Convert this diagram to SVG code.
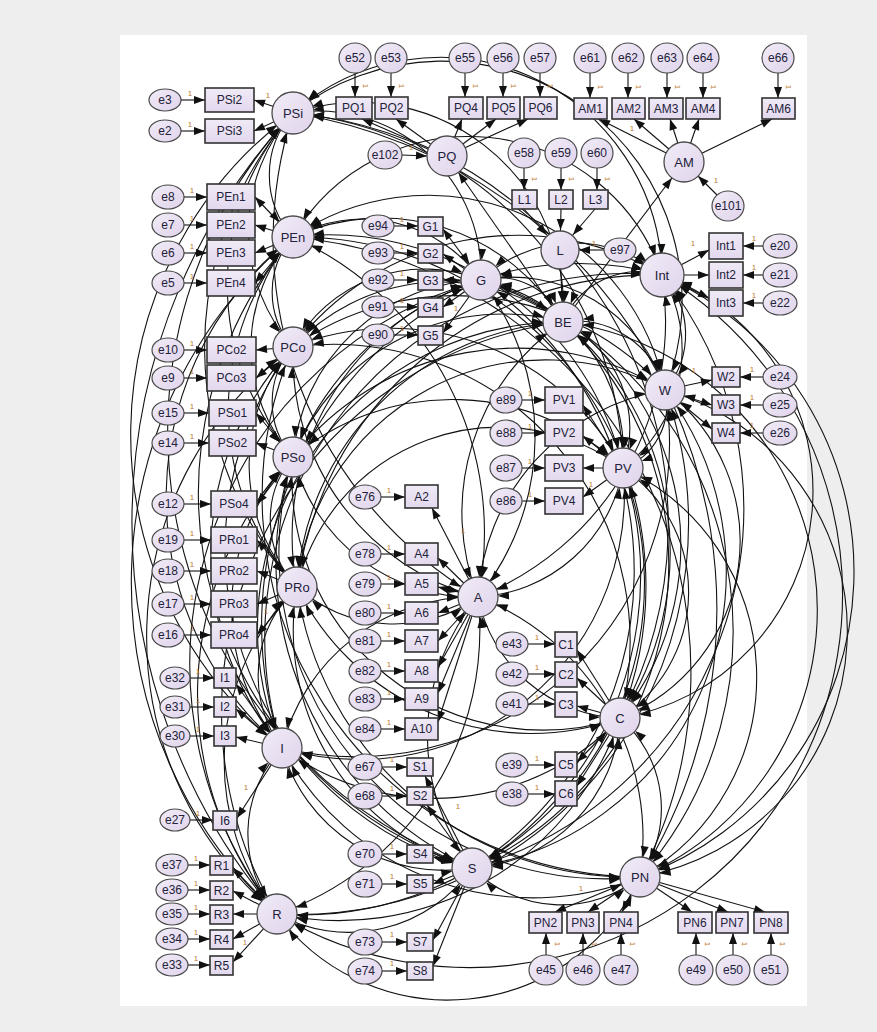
<svg xmlns="http://www.w3.org/2000/svg" width="877" height="1032" viewBox="0 0 877 1032">
<defs>
<linearGradient id="gl" x1="0" y1="0" x2="1" y2="1"><stop offset="0" stop-color="#f1ecf7"/><stop offset="1" stop-color="#e0d3eb"/></linearGradient>
<linearGradient id="gb" x1="0" y1="0" x2="0" y2="1"><stop offset="0" stop-color="#f0eaf6"/><stop offset="1" stop-color="#e3d8ee"/></linearGradient>
<marker id="ah" markerUnits="userSpaceOnUse" markerWidth="11" markerHeight="8" refX="11" refY="4" orient="auto" overflow="visible"><path d="M0,0 L11,4 L0,8z" fill="#111"/></marker>
<marker id="mc" markerUnits="userSpaceOnUse" markerWidth="11" markerHeight="8" refX="31" refY="4" orient="auto-start-reverse" overflow="visible"><path d="M0,0 L11,4 L0,8z" fill="#111"/></marker>
</defs>
<style>
text{font-family:"Liberation Sans",Arial,sans-serif;font-size:12px;fill:#22223a;text-anchor:middle;dominant-baseline:central}
.lat circle{fill:url(#gl);stroke:#4a4a4a;stroke-width:1.3}
.lat text{font-size:13px}
.box rect{fill:url(#gb);stroke:#333;stroke-width:1.6}
.err ellipse{fill:url(#gl);stroke:#4a4a4a;stroke-width:1.2}
.cov path{fill:none;stroke:#111;stroke-width:1.1;marker-start:url(#mc);marker-end:url(#mc)}
.ld path{fill:none;stroke:#111;stroke-width:1.1;marker-end:url(#ah)}
.st path{fill:none;stroke:#111;stroke-width:1.1;marker-end:url(#mc)}
.one text{font-size:8px;fill:#c07a30}
</style>
<rect x="0" y="0" width="877" height="1032" fill="#eeeeee"/>
<rect x="120" y="35" width="687" height="971" fill="#ffffff"/>

<g id="connectors">
<g class="cov">
<path d="M293,457 A83,83 0 0 1 293,347"/>
<path d="M293,457 A165,165 0 0 1 293,237"/>
<path d="M293,457 A258,258 0 0 1 293,113"/>
<path d="M293,457 A194,194 0 0 1 481,280"/>
<path d="M293,457 A226,226 0 0 1 563,322"/>
<path d="M293,457 A308,308 0 0 1 662,275"/>
<path d="M293,457 A284,284 0 0 1 665,390"/>
<path d="M293,457 A248,248 0 0 1 623,468"/>
<path d="M620,718 A251,251 0 0 1 293,457"/>
<path d="M640,877 A327,327 0 0 1 293,457"/>
<path d="M472,868 A336,336 0 0 1 293,457"/>
<path d="M277,914 A343,343 0 0 1 293,457"/>
<path d="M282,748 A218,218 0 0 1 293,457"/>
<path d="M297,587 A98,98 0 0 1 293,457"/>
<path d="M293,347 A83,83 0 0 1 293,237"/>
<path d="M293,347 A176,176 0 0 1 293,113"/>
<path d="M293,347 A150,150 0 0 1 481,280"/>
<path d="M293,347 A203,203 0 0 1 563,322"/>
<path d="M293,347 A282,282 0 0 1 662,275"/>
<path d="M293,347 A281,281 0 0 1 665,390"/>
<path d="M293,347 A263,263 0 0 1 623,468"/>
<path d="M293,347 A297,297 0 0 1 620,718"/>
<path d="M640,877 A380,380 0 0 1 293,347"/>
<path d="M472,868 A331,331 0 0 1 293,347"/>
<path d="M277,914 A360,360 0 0 1 293,347"/>
<path d="M282,748 A301,301 0 0 1 293,347"/>
<path d="M297,587 A180,180 0 0 1 293,347"/>
<path d="M293,237 A93,93 0 0 1 293,113"/>
<path d="M293,237 A145,145 0 0 1 481,280"/>
<path d="M293,237 A212,212 0 0 1 563,322"/>
<path d="M293,237 A204,204 0 0 1 662,275"/>
<path d="M293,237 A241,241 0 0 1 665,390"/>
<path d="M293,237 A302,302 0 0 1 623,468"/>
<path d="M293,237 A349,349 0 0 1 620,718"/>
<path d="M293,237 A437,437 0 0 1 640,877"/>
<path d="M472,868 A394,394 0 0 1 293,237"/>
<path d="M277,914 A450,450 0 0 1 293,237"/>
<path d="M282,748 A330,330 0 0 1 293,237"/>
<path d="M297,587 A263,263 0 0 1 293,237"/>
<path d="M293,113 A163,163 0 0 1 481,280"/>
<path d="M293,113 A205,205 0 0 1 563,322"/>
<path d="M293,113 A222,222 0 0 1 662,275"/>
<path d="M293,113 A240,240 0 0 1 665,390"/>
<path d="M293,113 A364,364 0 0 1 623,468"/>
<path d="M293,113 A413,413 0 0 1 620,718"/>
<path d="M293,113 A503,503 0 0 1 640,877"/>
<path d="M472,868 A466,466 0 0 1 293,113"/>
<path d="M277,914 A601,601 0 0 1 293,113"/>
<path d="M282,748 A400,400 0 0 1 293,113"/>
<path d="M297,587 A356,356 0 0 1 293,113"/>
<path d="M481,280 A69,69 0 0 1 563,322"/>
<path d="M481,280 A136,136 0 0 1 662,275"/>
<path d="M481,280 A161,161 0 0 1 665,390"/>
<path d="M481,280 A177,177 0 0 1 623,468"/>
<path d="M481,280 A276,276 0 0 1 620,718"/>
<path d="M481,280 A371,371 0 0 1 640,877"/>
<path d="M481,280 A353,353 0 0 1 472,868"/>
<path d="M277,914 A400,400 0 0 1 481,280"/>
<path d="M282,748 A381,381 0 0 1 481,280"/>
<path d="M297,587 A268,268 0 0 1 481,280"/>
<path d="M563,322 A82,82 0 0 1 662,275"/>
<path d="M563,322 A92,92 0 0 1 665,390"/>
<path d="M563,322 A118,118 0 0 1 623,468"/>
<path d="M563,322 A300,300 0 0 1 620,718"/>
<path d="M563,322 A290,290 0 0 1 640,877"/>
<path d="M563,322 A332,332 0 0 1 472,868"/>
<path d="M277,914 A394,394 0 0 1 563,322"/>
<path d="M282,748 A306,306 0 0 1 563,322"/>
<path d="M297,587 A282,282 0 0 1 563,322"/>
<path d="M662,275 A86,86 0 0 1 665,390"/>
<path d="M662,275 A148,148 0 0 1 623,468"/>
<path d="M662,275 A230,230 0 0 1 620,718"/>
<path d="M662,275 A325,325 0 0 1 640,877"/>
<path d="M662,275 A374,374 0 0 1 472,868"/>
<path d="M662,275 A373,373 0 0 1 277,914"/>
<path d="M282,748 A364,364 0 0 1 662,275"/>
<path d="M297,587 A360,360 0 0 1 662,275"/>
<path d="M665,390 A67,67 0 0 1 623,468"/>
<path d="M665,390 A190,190 0 0 1 620,718"/>
<path d="M665,390 A250,250 0 0 1 640,877"/>
<path d="M665,390 A300,300 0 0 1 472,868"/>
<path d="M665,390 A391,391 0 0 1 277,914"/>
<path d="M665,390 A314,314 0 0 1 282,748"/>
<path d="M297,587 A250,250 0 0 1 665,390"/>
<path d="M623,468 A150,150 0 0 1 620,718"/>
<path d="M623,468 A230,230 0 0 1 640,877"/>
<path d="M623,468 A321,321 0 0 1 472,868"/>
<path d="M623,468 A339,339 0 0 1 277,914"/>
<path d="M623,468 A265,265 0 0 1 282,748"/>
<path d="M297,587 A208,208 0 0 1 623,468"/>
<path d="M620,718 A120,120 0 0 1 640,877"/>
<path d="M620,718 A158,158 0 0 1 472,868"/>
<path d="M620,718 A296,296 0 0 1 277,914"/>
<path d="M620,718 A255,255 0 0 1 282,748"/>
<path d="M620,718 A261,261 0 0 1 297,587"/>
<path d="M640,877 A126,126 0 0 1 472,868"/>
<path d="M640,877 A212,212 0 0 1 277,914"/>
<path d="M640,877 A285,285 0 0 1 282,748"/>
<path d="M640,877 A337,337 0 0 1 297,587"/>
<path d="M472,868 A150,150 0 0 1 277,914"/>
<path d="M472,868 A168,168 0 0 1 282,748"/>
<path d="M472,868 A248,248 0 0 1 297,587"/>
<path d="M277,914 A125,125 0 0 1 282,748"/>
<path d="M277,914 A246,246 0 0 1 297,587"/>
<path d="M282,748 A121,121 0 0 1 297,587"/>
<path d="M293,457 A186,186 0 0 0 478,597"/>
<path d="M293,347 A249,249 0 0 0 478,597"/>
<path d="M293,237 A324,324 0 0 1 478,597"/>
<path d="M293,113 A414,414 0 0 0 478,597"/>
<path d="M481,280 A254,254 0 0 1 478,597"/>
<path d="M563,322 A230,230 0 0 0 478,597"/>
<path d="M662,275 A297,297 0 0 1 478,597"/>
<path d="M665,390 A223,223 0 0 0 478,597"/>
<path d="M623,468 A155,155 0 0 1 478,597"/>
<path d="M620,718 A150,150 0 0 1 478,597"/>
<path d="M640,877 A258,258 0 0 0 478,597"/>
<path d="M472,868 A217,217 0 0 1 478,597"/>
<path d="M277,914 A300,300 0 0 0 478,597"/>
<path d="M282,748 A198,198 0 0 1 478,597"/>
<path d="M297,587 A145,145 0 0 0 478,597"/>
</g>
<g class="st">
<path d="M524,209 L560,250"/>
<path d="M561,209 L560,250"/>
<path d="M595,209 L560,250"/>
<path d="M560,250 L563,322"/>
<path d="M563,322 L684,162"/>
<path d="M563,322 L447,156"/>
</g>
<g class="ld">
<path d="M293,113 L254,100"/><path d="M293,113 L254,131"/>
<path d="M293,237 L255,197"/><path d="M293,237 L255,225"/><path d="M293,237 L255,253"/><path d="M293,237 L255,283"/>
<path d="M293,347 L256,350"/><path d="M293,347 L256,378"/>
<path d="M293,457 L256,413"/><path d="M293,457 L256,443"/><path d="M293,457 L257,504"/>
<path d="M297,587 L257,540"/><path d="M297,587 L257,571"/><path d="M297,587 L257,604"/><path d="M297,587 L257,635"/>
<path d="M282,748 L236,684"/><path d="M282,748 L236,709"/><path d="M282,748 L236,737"/><path d="M282,748 L237,818"/>
<path d="M277,914 L233,868"/><path d="M277,914 L233,891"/><path d="M277,914 L233,914"/><path d="M277,914 L233,939"/><path d="M277,914 L233,962"/>
<path d="M481,280 L443,229"/><path d="M481,280 L443,254"/><path d="M481,280 L443,280"/><path d="M481,280 L443,307"/><path d="M481,280 L443,333"/>
<path d="M478,597 L432,508"/><path d="M478,597 L438,558"/><path d="M478,597 L438,587"/><path d="M478,597 L438,613"/><path d="M478,597 L438,641"/><path d="M478,597 L438,667"/><path d="M478,597 L438,693"/><path d="M478,597 L438,722"/>
<path d="M472,868 L425,776"/><path d="M472,868 L427,805"/><path d="M472,868 L433,857"/><path d="M472,868 L433,884"/><path d="M472,868 L433,940"/><path d="M472,868 L433,966"/>
<path d="M623,468 L583,405"/><path d="M623,468 L583,436"/><path d="M623,468 L583,468"/><path d="M623,468 L583,497"/>
<path d="M620,718 L577,650"/><path d="M620,718 L577,678"/><path d="M620,718 L577,706"/><path d="M620,718 L577,762"/><path d="M620,718 L577,786"/>
<path d="M665,390 L712,380"/><path d="M665,390 L712,405"/><path d="M665,390 L712,429"/>
<path d="M662,275 L709,250"/><path d="M662,275 L709,275"/><path d="M662,275 L709,298"/>
<path d="M684,162 L599,119"/><path d="M684,162 L634,119"/><path d="M684,162 L670,119"/><path d="M684,162 L699,119"/><path d="M684,162 L772,119"/>
<path d="M447,156 L362,119"/><path d="M447,156 L396,119"/><path d="M447,156 L462,119"/><path d="M447,156 L496,119"/><path d="M447,156 L528,119"/>
<path d="M640,877 L555,912"/><path d="M640,877 L588,912"/><path d="M640,877 L622,912"/><path d="M640,877 L692,912"/><path d="M640,877 L728,912"/><path d="M640,877 L765,912"/>
<path d="M181,100 L205,100"/><path d="M181,131 L205,131"/>
<path d="M184,197 L207,197"/><path d="M184,225 L207,225"/><path d="M184,253 L207,253"/><path d="M184,283 L207,283"/>
<path d="M184,350 L207,350"/><path d="M184,378 L207,378"/><path d="M184,413 L209,413"/><path d="M184,443 L209,443"/>
<path d="M184,504 L211,504"/><path d="M184,540 L211,540"/><path d="M184,571 L211,571"/><path d="M184,604 L211,604"/><path d="M184,635 L211,635"/>
<path d="M190,678 L214,678"/><path d="M190,707 L214,707"/><path d="M190,736 L214,736"/><path d="M190,820 L213,820"/>
<path d="M188,865 L210,865"/><path d="M188,890 L210,890"/><path d="M188,914 L210,914"/><path d="M188,939 L210,939"/><path d="M188,965 L210,965"/>
<path d="M394,226 L418,226"/><path d="M394,253 L418,253"/><path d="M394,280 L418,280"/><path d="M394,307 L418,307"/><path d="M394,335 L418,335"/>
<path d="M381,497 L405,497"/><path d="M381,554 L405,554"/><path d="M381,584 L405,584"/><path d="M381,613 L405,613"/><path d="M381,641 L405,641"/><path d="M381,671 L405,671"/><path d="M381,699 L405,699"/><path d="M381,729 L405,729"/>
<path d="M382,767 L407,767"/><path d="M382,796 L407,796"/><path d="M382,854 L407,854"/><path d="M382,884 L407,884"/><path d="M382,942 L407,942"/><path d="M382,971 L407,971"/>
<path d="M522,400 L545,400"/><path d="M522,433 L545,433"/><path d="M522,468 L545,468"/><path d="M522,501 L545,501"/>
<path d="M528,644 L555,644"/><path d="M528,674 L555,674"/><path d="M528,704 L555,704"/><path d="M528,765 L555,765"/><path d="M528,794 L555,794"/>
<path d="M763,246 L743,246"/><path d="M763,275 L743,275"/><path d="M763,303 L743,303"/>
<path d="M763,377 L740,377"/><path d="M763,405 L740,405"/><path d="M763,433 L740,433"/>
<path d="M355,73 L355,97"/><path d="M391,73 L391,97"/><path d="M465,73 L465,97"/><path d="M503,73 L503,97"/><path d="M540,73 L540,97"/>
<path d="M590,73 L590,98"/><path d="M628,73 L628,98"/><path d="M667,73 L667,98"/><path d="M703,73 L703,98"/><path d="M778,73 L778,98"/>
<path d="M524,168 L524,190"/><path d="M561,168 L561,190"/><path d="M597,168 L597,190"/>
<path d="M402,155 L427,156"/><path d="M717,195 L698,176"/><path d="M604,250 L579,250"/>
<path d="M546,955 L546,933"/><path d="M583,955 L583,933"/><path d="M621,955 L621,933"/><path d="M696,955 L696,933"/><path d="M733,955 L733,933"/><path d="M771,955 L771,933"/>
</g>
</g>

<g id="latents" class="lat">
<g id="n-PSi"><circle cx="293" cy="113" r="21"/><text x="293" y="113">PSi</text></g>
<g id="n-PEn"><circle cx="293" cy="237" r="21"/><text x="293" y="237">PEn</text></g>
<g id="n-PCo"><circle cx="293" cy="347" r="20"/><text x="293" y="347">PCo</text></g>
<g id="n-PSo"><circle cx="293" cy="457" r="20"/><text x="293" y="457">PSo</text></g>
<g id="n-PRo"><circle cx="297" cy="587" r="20"/><text x="297" y="587">PRo</text></g>
<g id="n-I"><circle cx="282" cy="748" r="20"/><text x="282" y="748">I</text></g>
<g id="n-R"><circle cx="277" cy="914" r="20"/><text x="277" y="914">R</text></g>
<g id="n-S"><circle cx="472" cy="868" r="20"/><text x="472" y="868">S</text></g>
<g id="n-PN"><circle cx="640" cy="877" r="20"/><text x="640" y="877">PN</text></g>
<g id="n-C"><circle cx="620" cy="718" r="20"/><text x="620" y="718">C</text></g>
<g id="n-PV"><circle cx="623" cy="468" r="20"/><text x="623" y="468">PV</text></g>
<g id="n-W"><circle cx="665" cy="390" r="20"/><text x="665" y="390">W</text></g>
<g id="n-Int"><circle cx="662" cy="275" r="22"/><text x="662" y="275">Int</text></g>
<g id="n-BE"><circle cx="563" cy="322" r="20"/><text x="563" y="322">BE</text></g>
<g id="n-G"><circle cx="481" cy="280" r="20"/><text x="481" y="280">G</text></g>
<g id="n-A"><circle cx="478" cy="597" r="20"/><text x="478" y="597">A</text></g>
<g id="n-PQ"><circle cx="447" cy="156" r="20"/><text x="447" y="156">PQ</text></g>
<g id="n-AM"><circle cx="684" cy="162" r="20"/><text x="684" y="162">AM</text></g>
<g id="n-L"><circle cx="560" cy="250" r="19"/><text x="560" y="250">L</text></g>
</g>

<g id="indicators" class="box">
<g id="n-PSi2"><rect x="205" y="88" width="49" height="24"/><text x="229.5" y="100">PSi2</text></g>
<g id="n-PSi3"><rect x="205" y="119" width="49" height="24"/><text x="229.5" y="131">PSi3</text></g>
<g id="n-PEn1"><rect x="207" y="184" width="48" height="26"/><text x="231" y="197">PEn1</text></g>
<g id="n-PEn2"><rect x="207" y="212" width="48" height="26"/><text x="231" y="225">PEn2</text></g>
<g id="n-PEn3"><rect x="207" y="240" width="48" height="26"/><text x="231" y="253">PEn3</text></g>
<g id="n-PEn4"><rect x="207" y="270" width="48" height="26"/><text x="231" y="283">PEn4</text></g>
<g id="n-PCo2"><rect x="207" y="337" width="49" height="26"/><text x="231.5" y="350">PCo2</text></g>
<g id="n-PCo3"><rect x="207" y="365" width="49" height="26"/><text x="231.5" y="378">PCo3</text></g>
<g id="n-PSo1"><rect x="209" y="400" width="47" height="26"/><text x="232.5" y="413">PSo1</text></g>
<g id="n-PSo2"><rect x="209" y="430" width="47" height="26"/><text x="232.5" y="443">PSo2</text></g>
<g id="n-PSo4"><rect x="211" y="491" width="46" height="26"/><text x="234" y="504">PSo4</text></g>
<g id="n-PRo1"><rect x="211" y="527" width="46" height="26"/><text x="234" y="540">PRo1</text></g>
<g id="n-PRo2"><rect x="211" y="558" width="46" height="26"/><text x="234" y="571">PRo2</text></g>
<g id="n-PRo3"><rect x="211" y="591" width="46" height="26"/><text x="234" y="604">PRo3</text></g>
<g id="n-PRo4"><rect x="211" y="622" width="46" height="26"/><text x="234" y="635">PRo4</text></g>
<g id="n-I1"><rect x="214" y="668" width="22" height="20"/><text x="225" y="678">I1</text></g>
<g id="n-I2"><rect x="214" y="697" width="22" height="20"/><text x="225" y="707">I2</text></g>
<g id="n-I3"><rect x="214" y="726" width="22" height="20"/><text x="225" y="736">I3</text></g>
<g id="n-I6"><rect x="213" y="811" width="24" height="19"/><text x="225" y="820.5">I6</text></g>
<g id="n-R1"><rect x="210" y="856" width="23" height="19"/><text x="221.5" y="865.5">R1</text></g>
<g id="n-R2"><rect x="210" y="881" width="23" height="19"/><text x="221.5" y="890.5">R2</text></g>
<g id="n-R3"><rect x="210" y="905" width="23" height="19"/><text x="221.5" y="914.5">R3</text></g>
<g id="n-R4"><rect x="210" y="930" width="23" height="19"/><text x="221.5" y="939.5">R4</text></g>
<g id="n-R5"><rect x="210" y="956" width="23" height="19"/><text x="221.5" y="965.5">R5</text></g>
<g id="n-G1"><rect x="418" y="217" width="25" height="19"/><text x="430.5" y="226.5">G1</text></g>
<g id="n-G2"><rect x="418" y="244" width="25" height="19"/><text x="430.5" y="253.5">G2</text></g>
<g id="n-G3"><rect x="418" y="271" width="25" height="19"/><text x="430.5" y="280.5">G3</text></g>
<g id="n-G4"><rect x="418" y="298" width="25" height="19"/><text x="430.5" y="307.5">G4</text></g>
<g id="n-G5"><rect x="418" y="326" width="25" height="19"/><text x="430.5" y="335.5">G5</text></g>
<g id="n-A2"><rect x="405" y="485" width="33" height="23"/><text x="421.5" y="496.5">A2</text></g>
<g id="n-A4"><rect x="405" y="543" width="33" height="22"/><text x="421.5" y="554">A4</text></g>
<g id="n-A5"><rect x="405" y="573" width="33" height="22"/><text x="421.5" y="584">A5</text></g>
<g id="n-A6"><rect x="405" y="602" width="33" height="22"/><text x="421.5" y="613">A6</text></g>
<g id="n-A7"><rect x="405" y="630" width="33" height="22"/><text x="421.5" y="641">A7</text></g>
<g id="n-A8"><rect x="405" y="660" width="33" height="22"/><text x="421.5" y="671">A8</text></g>
<g id="n-A9"><rect x="405" y="688" width="33" height="22"/><text x="421.5" y="699">A9</text></g>
<g id="n-A10"><rect x="405" y="718" width="33" height="22"/><text x="421.5" y="729">A10</text></g>
<g id="n-S1"><rect x="407" y="758" width="26" height="18"/><text x="420" y="767">S1</text></g>
<g id="n-S2"><rect x="407" y="787" width="26" height="18"/><text x="420" y="796">S2</text></g>
<g id="n-S4"><rect x="407" y="845" width="26" height="18"/><text x="420" y="854">S4</text></g>
<g id="n-S5"><rect x="407" y="875" width="26" height="18"/><text x="420" y="884">S5</text></g>
<g id="n-S7"><rect x="407" y="933" width="26" height="18"/><text x="420" y="942">S7</text></g>
<g id="n-S8"><rect x="407" y="962" width="26" height="18"/><text x="420" y="971">S8</text></g>
<g id="n-PV1"><rect x="545" y="387" width="38" height="26"/><text x="564" y="400">PV1</text></g>
<g id="n-PV2"><rect x="545" y="420" width="38" height="26"/><text x="564" y="433">PV2</text></g>
<g id="n-PV3"><rect x="545" y="455" width="38" height="26"/><text x="564" y="468">PV3</text></g>
<g id="n-PV4"><rect x="545" y="488" width="38" height="26"/><text x="564" y="501">PV4</text></g>
<g id="n-C1"><rect x="555" y="632" width="22" height="25"/><text x="566" y="644.5">C1</text></g>
<g id="n-C2"><rect x="555" y="662" width="22" height="25"/><text x="566" y="674.5">C2</text></g>
<g id="n-C3"><rect x="555" y="692" width="22" height="25"/><text x="566" y="704.5">C3</text></g>
<g id="n-C5"><rect x="555" y="752" width="22" height="25"/><text x="566" y="764.5">C5</text></g>
<g id="n-C6"><rect x="555" y="781" width="22" height="25"/><text x="566" y="793.5">C6</text></g>
<g id="n-Int1"><rect x="709" y="233" width="34" height="26"/><text x="726" y="246">Int1</text></g>
<g id="n-Int2"><rect x="709" y="262" width="34" height="26"/><text x="726" y="275">Int2</text></g>
<g id="n-Int3"><rect x="709" y="290" width="34" height="26"/><text x="726" y="303">Int3</text></g>
<g id="n-W2"><rect x="712" y="367" width="28" height="20"/><text x="726" y="377">W2</text></g>
<g id="n-W3"><rect x="712" y="395" width="28" height="20"/><text x="726" y="405">W3</text></g>
<g id="n-W4"><rect x="712" y="423" width="28" height="20"/><text x="726" y="433">W4</text></g>
<g id="n-PQ1"><rect x="336" y="97" width="36" height="22"/><text x="354" y="108">PQ1</text></g>
<g id="n-PQ2"><rect x="375" y="97" width="33" height="22"/><text x="391.5" y="108">PQ2</text></g>
<g id="n-PQ4"><rect x="449" y="97" width="34" height="22"/><text x="466" y="108">PQ4</text></g>
<g id="n-PQ5"><rect x="487" y="97" width="33" height="22"/><text x="503.5" y="108">PQ5</text></g>
<g id="n-PQ6"><rect x="524" y="97" width="33" height="22"/><text x="540.5" y="108">PQ6</text></g>
<g id="n-AM1"><rect x="574" y="98" width="33" height="21"/><text x="590.5" y="108.5">AM1</text></g>
<g id="n-AM2"><rect x="612" y="98" width="33" height="21"/><text x="628.5" y="108.5">AM2</text></g>
<g id="n-AM3"><rect x="649" y="98" width="34" height="21"/><text x="666" y="108.5">AM3</text></g>
<g id="n-AM4"><rect x="686" y="98" width="34" height="21"/><text x="703" y="108.5">AM4</text></g>
<g id="n-AM6"><rect x="762" y="98" width="33" height="21"/><text x="778.5" y="108.5">AM6</text></g>
<g id="n-L1"><rect x="512" y="190" width="25" height="19"/><text x="524.5" y="199.5">L1</text></g>
<g id="n-L2"><rect x="549" y="190" width="24" height="19"/><text x="561" y="199.5">L2</text></g>
<g id="n-L3"><rect x="583" y="190" width="25" height="19"/><text x="595.5" y="199.5">L3</text></g>
<g id="n-PN2"><rect x="529" y="912" width="33" height="21"/><text x="545.5" y="922.5">PN2</text></g>
<g id="n-PN3"><rect x="567" y="912" width="32" height="21"/><text x="583" y="922.5">PN3</text></g>
<g id="n-PN4"><rect x="604" y="912" width="34" height="21"/><text x="621" y="922.5">PN4</text></g>
<g id="n-PN6"><rect x="678" y="912" width="34" height="21"/><text x="695" y="922.5">PN6</text></g>
<g id="n-PN7"><rect x="716" y="912" width="32" height="21"/><text x="732" y="922.5">PN7</text></g>
<g id="n-PN8"><rect x="754" y="912" width="34" height="21"/><text x="771" y="922.5">PN8</text></g>
</g>

<g id="errors" class="err">
<g id="n-e3"><ellipse cx="165" cy="100" rx="16" ry="11"/><text x="165" y="100">e3</text></g>
<g id="n-e2"><ellipse cx="165" cy="131" rx="16" ry="11"/><text x="165" y="131">e2</text></g>
<g id="n-e8"><ellipse cx="168" cy="197" rx="16" ry="12"/><text x="168" y="197">e8</text></g>
<g id="n-e7"><ellipse cx="168" cy="225" rx="16" ry="12"/><text x="168" y="225">e7</text></g>
<g id="n-e6"><ellipse cx="168" cy="253" rx="16" ry="12"/><text x="168" y="253">e6</text></g>
<g id="n-e5"><ellipse cx="168" cy="283" rx="16" ry="12"/><text x="168" y="283">e5</text></g>
<g id="n-e10"><ellipse cx="168" cy="350" rx="16" ry="12"/><text x="168" y="350">e10</text></g>
<g id="n-e9"><ellipse cx="168" cy="378" rx="16" ry="12"/><text x="168" y="378">e9</text></g>
<g id="n-e15"><ellipse cx="168" cy="413" rx="16" ry="12"/><text x="168" y="413">e15</text></g>
<g id="n-e14"><ellipse cx="168" cy="443" rx="16" ry="12"/><text x="168" y="443">e14</text></g>
<g id="n-e12"><ellipse cx="168" cy="504" rx="16" ry="12"/><text x="168" y="504">e12</text></g>
<g id="n-e19"><ellipse cx="168" cy="540" rx="16" ry="12"/><text x="168" y="540">e19</text></g>
<g id="n-e18"><ellipse cx="168" cy="571" rx="16" ry="12"/><text x="168" y="571">e18</text></g>
<g id="n-e17"><ellipse cx="168" cy="604" rx="16" ry="12"/><text x="168" y="604">e17</text></g>
<g id="n-e16"><ellipse cx="168" cy="635" rx="16" ry="12"/><text x="168" y="635">e16</text></g>
<g id="n-e32"><ellipse cx="175" cy="678" rx="15" ry="11"/><text x="175" y="678">e32</text></g>
<g id="n-e31"><ellipse cx="175" cy="707" rx="15" ry="11"/><text x="175" y="707">e31</text></g>
<g id="n-e30"><ellipse cx="175" cy="736" rx="15" ry="11"/><text x="175" y="736">e30</text></g>
<g id="n-e27"><ellipse cx="175" cy="820" rx="15" ry="11"/><text x="175" y="820">e27</text></g>
<g id="n-e37"><ellipse cx="172" cy="865" rx="16" ry="11"/><text x="172" y="865">e37</text></g>
<g id="n-e36"><ellipse cx="172" cy="890" rx="16" ry="11"/><text x="172" y="890">e36</text></g>
<g id="n-e35"><ellipse cx="172" cy="914" rx="16" ry="11"/><text x="172" y="914">e35</text></g>
<g id="n-e34"><ellipse cx="172" cy="939" rx="16" ry="11"/><text x="172" y="939">e34</text></g>
<g id="n-e33"><ellipse cx="172" cy="965" rx="16" ry="11"/><text x="172" y="965">e33</text></g>
<g id="n-e94"><ellipse cx="378" cy="226" rx="16" ry="11"/><text x="378" y="226">e94</text></g>
<g id="n-e93"><ellipse cx="378" cy="253" rx="16" ry="11"/><text x="378" y="253">e93</text></g>
<g id="n-e92"><ellipse cx="378" cy="280" rx="16" ry="11"/><text x="378" y="280">e92</text></g>
<g id="n-e91"><ellipse cx="378" cy="307" rx="16" ry="11"/><text x="378" y="307">e91</text></g>
<g id="n-e90"><ellipse cx="378" cy="335" rx="16" ry="11"/><text x="378" y="335">e90</text></g>
<g id="n-e76"><ellipse cx="365" cy="497" rx="16" ry="12"/><text x="365" y="497">e76</text></g>
<g id="n-e78"><ellipse cx="365" cy="554" rx="16" ry="12"/><text x="365" y="554">e78</text></g>
<g id="n-e79"><ellipse cx="365" cy="584" rx="16" ry="12"/><text x="365" y="584">e79</text></g>
<g id="n-e80"><ellipse cx="365" cy="613" rx="16" ry="12"/><text x="365" y="613">e80</text></g>
<g id="n-e81"><ellipse cx="365" cy="641" rx="16" ry="12"/><text x="365" y="641">e81</text></g>
<g id="n-e82"><ellipse cx="365" cy="671" rx="16" ry="12"/><text x="365" y="671">e82</text></g>
<g id="n-e83"><ellipse cx="365" cy="699" rx="16" ry="12"/><text x="365" y="699">e83</text></g>
<g id="n-e84"><ellipse cx="365" cy="729" rx="16" ry="12"/><text x="365" y="729">e84</text></g>
<g id="n-e67"><ellipse cx="365" cy="767" rx="17" ry="13"/><text x="365" y="767">e67</text></g>
<g id="n-e68"><ellipse cx="365" cy="796" rx="17" ry="13"/><text x="365" y="796">e68</text></g>
<g id="n-e70"><ellipse cx="365" cy="854" rx="17" ry="13"/><text x="365" y="854">e70</text></g>
<g id="n-e71"><ellipse cx="365" cy="884" rx="17" ry="13"/><text x="365" y="884">e71</text></g>
<g id="n-e73"><ellipse cx="365" cy="942" rx="17" ry="13"/><text x="365" y="942">e73</text></g>
<g id="n-e74"><ellipse cx="365" cy="971" rx="17" ry="13"/><text x="365" y="971">e74</text></g>
<g id="n-e89"><ellipse cx="506" cy="400" rx="16" ry="13"/><text x="506" y="400">e89</text></g>
<g id="n-e88"><ellipse cx="506" cy="433" rx="16" ry="13"/><text x="506" y="433">e88</text></g>
<g id="n-e87"><ellipse cx="506" cy="468" rx="16" ry="13"/><text x="506" y="468">e87</text></g>
<g id="n-e86"><ellipse cx="506" cy="501" rx="16" ry="13"/><text x="506" y="501">e86</text></g>
<g id="n-e43"><ellipse cx="512" cy="644" rx="16" ry="12"/><text x="512" y="644">e43</text></g>
<g id="n-e42"><ellipse cx="512" cy="674" rx="16" ry="12"/><text x="512" y="674">e42</text></g>
<g id="n-e41"><ellipse cx="512" cy="704" rx="16" ry="12"/><text x="512" y="704">e41</text></g>
<g id="n-e39"><ellipse cx="512" cy="765" rx="16" ry="12"/><text x="512" y="765">e39</text></g>
<g id="n-e38"><ellipse cx="512" cy="794" rx="16" ry="12"/><text x="512" y="794">e38</text></g>
<g id="n-e20"><ellipse cx="780" cy="246" rx="17" ry="12"/><text x="780" y="246">e20</text></g>
<g id="n-e21"><ellipse cx="780" cy="275" rx="17" ry="12"/><text x="780" y="275">e21</text></g>
<g id="n-e22"><ellipse cx="780" cy="303" rx="17" ry="12"/><text x="780" y="303">e22</text></g>
<g id="n-e24"><ellipse cx="780" cy="377" rx="17" ry="12"/><text x="780" y="377">e24</text></g>
<g id="n-e25"><ellipse cx="780" cy="405" rx="17" ry="12"/><text x="780" y="405">e25</text></g>
<g id="n-e26"><ellipse cx="780" cy="433" rx="17" ry="12"/><text x="780" y="433">e26</text></g>
<g id="n-e97"><ellipse cx="620" cy="250" rx="16" ry="12"/><text x="620" y="250">e97</text></g>
<g id="n-e52"><ellipse cx="355" cy="58" rx="16" ry="15"/><text x="355" y="58">e52</text></g>
<g id="n-e53"><ellipse cx="391" cy="58" rx="16" ry="15"/><text x="391" y="58">e53</text></g>
<g id="n-e55"><ellipse cx="465" cy="58" rx="16" ry="15"/><text x="465" y="58">e55</text></g>
<g id="n-e56"><ellipse cx="503" cy="58" rx="16" ry="15"/><text x="503" y="58">e56</text></g>
<g id="n-e57"><ellipse cx="540" cy="58" rx="16" ry="15"/><text x="540" y="58">e57</text></g>
<g id="n-e61"><ellipse cx="590" cy="58" rx="16" ry="15"/><text x="590" y="58">e61</text></g>
<g id="n-e62"><ellipse cx="628" cy="58" rx="16" ry="15"/><text x="628" y="58">e62</text></g>
<g id="n-e63"><ellipse cx="667" cy="58" rx="16" ry="15"/><text x="667" y="58">e63</text></g>
<g id="n-e64"><ellipse cx="703" cy="58" rx="16" ry="15"/><text x="703" y="58">e64</text></g>
<g id="n-e66"><ellipse cx="778" cy="58" rx="16" ry="15"/><text x="778" y="58">e66</text></g>
<g id="n-e58"><ellipse cx="524" cy="153" rx="16" ry="15"/><text x="524" y="153">e58</text></g>
<g id="n-e59"><ellipse cx="561" cy="153" rx="16" ry="15"/><text x="561" y="153">e59</text></g>
<g id="n-e60"><ellipse cx="597" cy="153" rx="16" ry="15"/><text x="597" y="153">e60</text></g>
<g id="n-e102"><ellipse cx="385" cy="155" rx="17" ry="14"/><text x="385" y="155">e102</text></g>
<g id="n-e101"><ellipse cx="728" cy="206" rx="16" ry="15"/><text x="728" y="206">e101</text></g>
<g id="n-e45"><ellipse cx="546" cy="970" rx="17" ry="15"/><text x="546" y="970">e45</text></g>
<g id="n-e46"><ellipse cx="583" cy="970" rx="17" ry="15"/><text x="583" y="970">e46</text></g>
<g id="n-e47"><ellipse cx="621" cy="970" rx="17" ry="15"/><text x="621" y="970">e47</text></g>
<g id="n-e49"><ellipse cx="696" cy="970" rx="17" ry="15"/><text x="696" y="970">e49</text></g>
<g id="n-e50"><ellipse cx="733" cy="970" rx="17" ry="15"/><text x="733" y="970">e50</text></g>
<g id="n-e51"><ellipse cx="771" cy="970" rx="17" ry="15"/><text x="771" y="970">e51</text></g>
</g>

<g id="weights" class="one">
<text x="190" y="93">1</text><text x="190" y="124">1</text>
<text x="192" y="190">1</text><text x="192" y="218">1</text><text x="192" y="246">1</text><text x="192" y="276">1</text>
<text x="192" y="343">1</text><text x="192" y="371">1</text><text x="192" y="406">1</text><text x="192" y="436">1</text>
<text x="192" y="497">1</text><text x="192" y="533">1</text><text x="192" y="564">1</text><text x="192" y="597">1</text><text x="192" y="628">1</text>
<text x="198" y="671">1</text><text x="198" y="700">1</text><text x="198" y="729">1</text><text x="198" y="813">1</text>
<text x="196" y="858">1</text><text x="196" y="883">1</text><text x="196" y="907">1</text><text x="196" y="932">1</text><text x="196" y="958">1</text>
<text x="402" y="219">1</text><text x="402" y="246">1</text><text x="402" y="273">1</text><text x="402" y="300">1</text><text x="402" y="328">1</text>
<text x="389" y="490">1</text><text x="389" y="547">1</text><text x="389" y="577">1</text><text x="389" y="606">1</text><text x="389" y="634">1</text><text x="389" y="664">1</text><text x="389" y="692">1</text><text x="389" y="722">1</text>
<text x="392" y="759">1</text><text x="392" y="788">1</text><text x="392" y="846">1</text><text x="392" y="876">1</text><text x="392" y="934">1</text><text x="392" y="963">1</text>
<text x="530" y="393">1</text><text x="530" y="426">1</text><text x="530" y="461">1</text><text x="530" y="494">1</text>
<text x="537" y="637">1</text><text x="537" y="667">1</text><text x="537" y="697">1</text><text x="537" y="758">1</text><text x="537" y="787">1</text>
<text x="754" y="238">1</text><text x="754" y="267">1</text><text x="754" y="295">1</text>
<text x="752" y="369">1</text><text x="752" y="397">1</text><text x="752" y="425">1</text>
<text x="411" y="147">1</text><text x="716" y="180">1</text><text x="594" y="243">1</text>
<text x="268" y="95">1</text><text x="463" y="530">1</text><text x="245" y="942">1</text><text x="246" y="787">1</text><text x="693" y="243">1</text><text x="694" y="370">1</text><text x="591" y="484">1</text><text x="456" y="308">1</text><text x="632" y="128">1</text><text x="266" y="611">1</text><text x="458" y="806">1</text><text x="581" y="888">1</text>
<text x="365" y="86" transform="rotate(90 365 86)">1</text><text x="401" y="86" transform="rotate(90 401 86)">1</text><text x="475" y="86" transform="rotate(90 475 86)">1</text><text x="513" y="86" transform="rotate(90 513 86)">1</text><text x="550" y="86" transform="rotate(90 550 86)">1</text>
<text x="600" y="87" transform="rotate(90 600 87)">1</text><text x="638" y="87" transform="rotate(90 638 87)">1</text><text x="677" y="87" transform="rotate(90 677 87)">1</text><text x="713" y="87" transform="rotate(90 713 87)">1</text><text x="788" y="87" transform="rotate(90 788 87)">1</text>
<text x="534" y="179" transform="rotate(90 534 179)">1</text><text x="571" y="179" transform="rotate(90 571 179)">1</text><text x="607" y="179" transform="rotate(90 607 179)">1</text>
<text x="557" y="944" transform="rotate(90 557 944)">1</text><text x="594" y="944" transform="rotate(90 594 944)">1</text><text x="632" y="944" transform="rotate(90 632 944)">1</text><text x="707" y="944" transform="rotate(90 707 944)">1</text><text x="744" y="944" transform="rotate(90 744 944)">1</text><text x="782" y="944" transform="rotate(90 782 944)">1</text>
</g>
</svg>
